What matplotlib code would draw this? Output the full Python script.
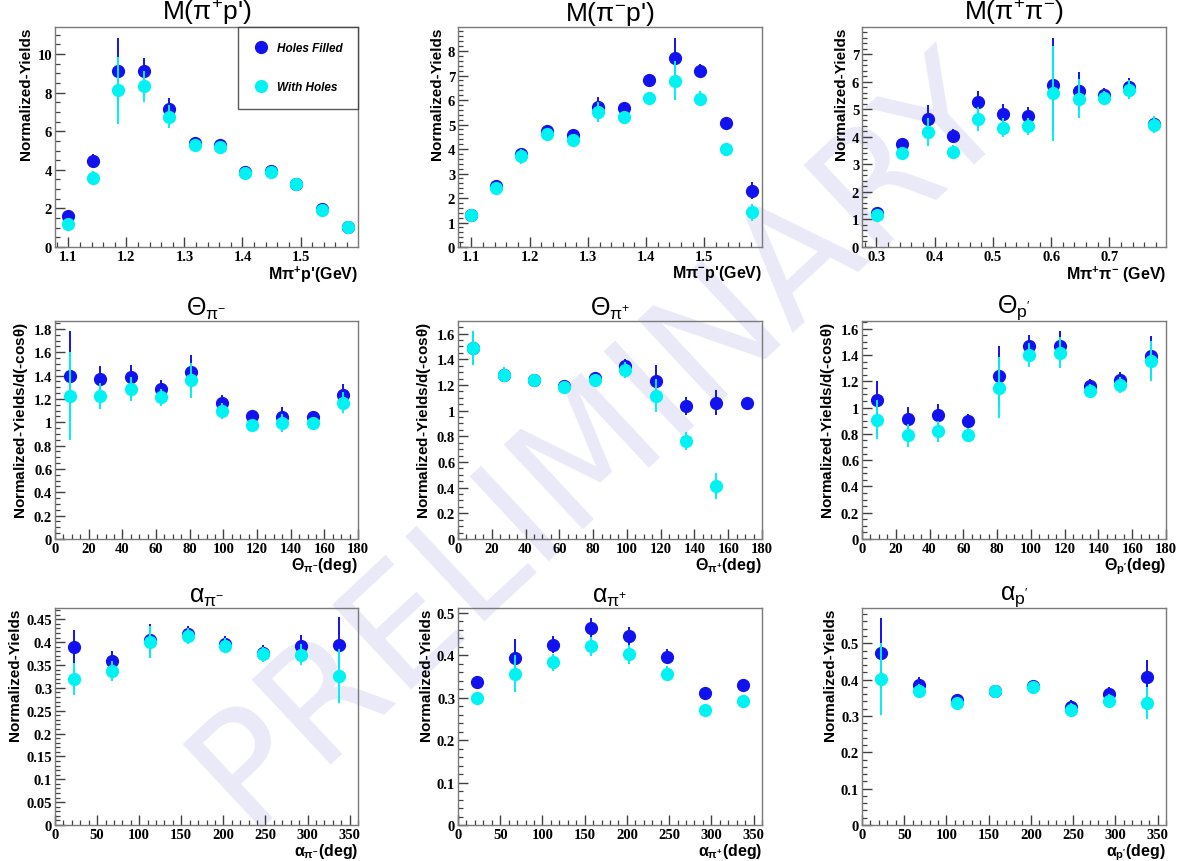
import matplotlib
matplotlib.use("Agg")
import matplotlib.pyplot as plt
from matplotlib.ticker import MultipleLocator
from matplotlib.font_manager import FontProperties
import numpy as np

plt.rcParams['mathtext.fontset'] = 'custom'
plt.rcParams['mathtext.rm'] = 'Liberation Sans'
plt.rcParams['mathtext.it'] = 'Liberation Sans:italic'
plt.rcParams['mathtext.bf'] = 'Liberation Sans:bold'
plt.rcParams['mathtext.default'] = 'regular'

# ---------------- data ----------------
# Row 1: invariant masses (GeV)
m_pipp_x = [1.099, 1.143, 1.186, 1.230, 1.274, 1.318, 1.362, 1.405, 1.449, 1.493, 1.537, 1.581]
m_pipp_fill = [1.61, 4.48, 9.10, 9.10, 7.13, 5.40, 5.31, 3.91, 3.94, 3.27, 1.96, 1.04]
m_pipp_fill_err = [0.30, 0.35, 1.75, 0.70, 0.57, 0.15, 0.25, 0.10, 0.10, 0.30, 0.10, 0.08]
m_pipp_hole = [1.18, 3.60, 8.11, 8.32, 6.75, 5.26, 5.16, 3.86, 3.91, 3.24, 1.92, 1.02]
m_pipp_hole_err = [0.30, 0.35, 1.75, 0.80, 0.60, 0.15, 0.20, 0.10, 0.10, 0.30, 0.10, 0.08]

m_pimp_x = m_pipp_x
m_pimp_fill = [1.32, 2.50, 3.81, 4.73, 4.56, 5.71, 5.67, 6.82, 7.73, 7.18, 5.06, 2.29]
m_pimp_fill_err = [0.20, 0.10, 0.25, 0.15, 0.10, 0.40, 0.25, 0.25, 0.80, 0.30, 0.25, 0.35]
m_pimp_hole = [1.32, 2.42, 3.70, 4.63, 4.38, 5.51, 5.31, 6.08, 6.79, 6.05, 3.99, 1.41]
m_pimp_hole_err = [0.20, 0.10, 0.30, 0.15, 0.10, 0.40, 0.25, 0.25, 0.80, 0.30, 0.25, 0.35]

m_pipi_x = [0.301, 0.344, 0.388, 0.431, 0.474, 0.518, 0.561, 0.604, 0.647, 0.690, 0.734, 0.777]
m_pipi_fill = [1.25, 3.74, 4.65, 4.04, 5.25, 4.83, 4.76, 5.87, 5.65, 5.53, 5.80, 4.47]
m_pipi_fill_err = [0.05, 0.22, 0.50, 0.25, 0.42, 0.35, 0.32, 1.72, 0.72, 0.25, 0.34, 0.30]
m_pipi_hole = [1.16, 3.41, 4.18, 3.46, 4.65, 4.33, 4.38, 5.58, 5.39, 5.41, 5.71, 4.44]
m_pipi_hole_err = [0.05, 0.22, 0.50, 0.25, 0.42, 0.35, 0.32, 1.72, 0.72, 0.25, 0.34, 0.30]

# Row 2: polar angles (deg)
theta_x = [9, 27, 45, 63, 81, 99, 117, 135, 153, 171]
th_pim_fill = [1.40, 1.37, 1.39, 1.285, 1.427, 1.166, 1.052, 1.049, 1.046, 1.237]
th_pim_fill_err = [0.38, 0.11, 0.10, 0.075, 0.15, 0.07, 0.05, 0.08, 0.05, 0.09]
th_pim_hole = [1.225, 1.228, 1.285, 1.214, 1.359, 1.098, 0.981, 0.995, 0.995, 1.169]
th_pim_hole_err = [0.38, 0.11, 0.10, 0.075, 0.15, 0.07, 0.05, 0.08, 0.05, 0.09]

th_pip_fill = [1.488, 1.279, 1.24, 1.189, 1.251, 1.344, 1.227, 1.036, 1.062, 1.059]
th_pip_fill_err = [0.13, 0.06, 0.04, 0.04, 0.04, 0.06, 0.13, 0.07, 0.10, 0.02]
th_pip_hole = [1.488, 1.279, 1.235, 1.183, 1.24, 1.315, 1.116, 0.765, 0.413, np.nan]
th_pip_hole_err = [0.13, 0.06, 0.04, 0.04, 0.04, 0.06, 0.13, 0.07, 0.10, np.nan]

th_p_fill = [1.058, 0.914, 0.944, 0.899, 1.237, 1.465, 1.465, 1.167, 1.21, 1.394]
th_p_fill_err = [0.145, 0.09, 0.08, 0.05, 0.23, 0.09, 0.12, 0.05, 0.06, 0.15]
th_p_hole = [0.909, 0.788, 0.821, 0.795, 1.152, 1.399, 1.419, 1.129, 1.174, 1.354]
th_p_hole_err = [0.145, 0.09, 0.08, 0.05, 0.23, 0.09, 0.12, 0.05, 0.06, 0.15]

# Row 3: azimuthal angles (deg)
alpha_x = [22.5, 67.5, 112.5, 157.5, 202.5, 247.5, 292.5, 337.5]
al_pim_fill = [0.3895, 0.3577, 0.4053, 0.4183, 0.3967, 0.3772, 0.3923, 0.3945]
al_pim_fill_err = [0.036, 0.022, 0.035, 0.018, 0.016, 0.016, 0.023, 0.060]
al_pim_hole = [0.3194, 0.3367, 0.3996, 0.414, 0.3923, 0.3736, 0.3721, 0.3259]
al_pim_hole_err = [0.036, 0.022, 0.035, 0.018, 0.016, 0.016, 0.023, 0.060]

al_pip_fill = [0.3364, 0.3949, 0.4245, 0.4657, 0.4455, 0.3972, 0.3107, 0.3302]
al_pip_fill_err = [0.014, 0.044, 0.020, 0.023, 0.022, 0.018, 0.012, 0.012]
al_pip_hole = [0.299, 0.3567, 0.384, 0.4213, 0.4026, 0.3567, 0.2718, 0.2928]
al_pip_hole_err = [0.014, 0.044, 0.020, 0.023, 0.022, 0.018, 0.012, 0.012]

al_p_fill = [0.4727, 0.3864, 0.3427, 0.370, 0.3818, 0.3245, 0.3609, 0.4082]
al_p_fill_err = [0.098, 0.020, 0.010, 0.012, 0.012, 0.019, 0.020, 0.045]
al_p_hole = [0.4018, 0.3682, 0.3355, 0.3673, 0.380, 0.3173, 0.3409, 0.3355]
al_p_hole_err = [0.098, 0.020, 0.010, 0.012, 0.012, 0.019, 0.020, 0.045]

legend_labels = ["Holes Filled", "With Holes"]

# ---------------- style ----------------
W, H = 1187, 862
BLUE = '#1212ee'
CYAN = '#00f2f2'
SPINE = '#7a7a7a'
tick_fp = FontProperties(family='Liberation Serif', weight='bold', size=10.5)

fig = plt.figure(figsize=(W / 100, H / 100), dpi=100)

# watermark (behind the axes)
fig.text(0.505, 0.49, "PRELIMINARY", fontsize=114, color='#e9e9f8',
         rotation=43, ha='center', va='center', family='DejaVu Sans',
         zorder=-5)

col_l = [55, 458, 862]
col_w = [303, 304, 304]
row_tb = [(28, 248), (322, 540), (609, 826)]

panels = [
    dict(x=m_pipp_x, f=m_pipp_fill, fe=m_pipp_fill_err, h=m_pipp_hole, he=m_pipp_hole_err,
         xlim=(1.077, 1.599), ylim=(0, 11.4), xmaj=0.1, xmin=0.02, ymaj=2, ymin=0.5,
         title=r"M($\pi^{+}$p')", tsize=19, xlabel=r"M$\pi^{+}$p'(GeV)",
         ylabel="Normalized-Yields", xfmt="{:.1f}", legend=True),
    dict(x=m_pimp_x, f=m_pimp_fill, fe=m_pimp_fill_err, h=m_pimp_hole, he=m_pimp_hole_err,
         xlim=(1.077, 1.599), ylim=(0, 8.98), xmaj=0.1, xmin=0.02, ymaj=1, ymin=0.2,
         title=r"M($\pi^{-}$p')", tsize=19, xlabel=r"M$\pi^{-}$p'(GeV)",
         ylabel="Normalized-Yields", xfmt="{:.1f}"),
    dict(x=m_pipi_x, f=m_pipi_fill, fe=m_pipi_fill_err, h=m_pipi_hole, he=m_pipi_hole_err,
         xlim=(0.2755, 0.797), ylim=(0, 7.99), xmaj=0.1, xmin=0.02, ymaj=1, ymin=0.2,
         title=r"M($\pi^{+}\pi^{-}$)", tsize=19, xlabel=r"M$\pi^{+}\pi^{-}$ (GeV)",
         ylabel="Normalized-Yields", xfmt="{:.1f}"),
    dict(x=theta_x, f=th_pim_fill, fe=th_pim_fill_err, h=th_pim_hole, he=th_pim_hole_err,
         xlim=(0, 180), ylim=(0, 1.868), xmaj=20, xmin=5, ymaj=0.2, ymin=0.05,
         title=r"$\Theta_{\pi^{-}}$", tsize=18, xlabel=r"$\Theta_{\pi^{-}}$(deg)",
         ylabel=r"Normalized-Yields/d(-cos$\theta$)", xfmt="{:.0f}"),
    dict(x=theta_x, f=th_pip_fill, fe=th_pip_fill_err, h=th_pip_hole, he=th_pip_hole_err,
         xlim=(0, 180), ylim=(0, 1.698), xmaj=20, xmin=5, ymaj=0.2, ymin=0.05,
         title=r"$\Theta_{\pi^{+}}$", tsize=18, xlabel=r"$\Theta_{\pi^{+}}$(deg)",
         ylabel=r"Normalized-Yields/d(-cos$\theta$)", xfmt="{:.0f}"),
    dict(x=theta_x, f=th_p_fill, fe=th_p_fill_err, h=th_p_hole, he=th_p_hole_err,
         xlim=(0, 180), ylim=(0, 1.659), xmaj=20, xmin=5, ymaj=0.2, ymin=0.05,
         title=r"$\Theta_{p'}$", tsize=18, xlabel=r"$\Theta_{p'}$(deg)",
         ylabel=r"Normalized-Yields/d(-cos$\theta$)", xfmt="{:.0f}"),
    dict(x=alpha_x, f=al_pim_fill, fe=al_pim_fill_err, h=al_pim_hole, he=al_pim_hole_err,
         xlim=(0, 360), ylim=(0, 0.4747), xmaj=50, xmin=10, ymaj=0.05, ymin=0.01,
         title=r"$\alpha_{\pi^{-}}$", tsize=18, xlabel=r"$\alpha_{\pi^{-}}$(deg)",
         ylabel="Normalized-Yields", xfmt="{:.0f}"),
    dict(x=alpha_x, f=al_pip_fill, fe=al_pip_fill_err, h=al_pip_hole, he=al_pip_hole_err,
         xlim=(0, 360), ylim=(0, 0.5117), xmaj=50, xmin=10, ymaj=0.1, ymin=0.02,
         title=r"$\alpha_{\pi^{+}}$", tsize=18, xlabel=r"$\alpha_{\pi^{+}}$(deg)",
         ylabel="Normalized-Yields", xfmt="{:.0f}"),
    dict(x=alpha_x, f=al_p_fill, fe=al_p_fill_err, h=al_p_hole, he=al_p_hole_err,
         xlim=(0, 360), ylim=(0, 0.597), xmaj=50, xmin=10, ymaj=0.1, ymin=0.02,
         title=r"$\alpha_{p'}$", tsize=18, xlabel=r"$\alpha_{p'}$(deg)",
         ylabel="Normalized-Yields", xfmt="{:.0f}"),
]


def fmt_y(v, step):
    if step >= 1:
        return "{:.0f}".format(v)
    if abs(v) < 1e-9:
        return "0"
    s = "{:.2f}".format(v) if step < 0.1 else "{:.1f}".format(v)
    s = s.rstrip('0').rstrip('.') if '.' in s else s
    return s


for i, p in enumerate(panels):
    r, c = divmod(i, 3)
    top, bot = row_tb[r]
    ax = fig.add_axes([col_l[c] / W, 1 - bot / H, col_w[c] / W, (bot - top) / H])
    ax.set_facecolor('none')
    ax.set_xlim(*p['xlim'])
    ax.set_ylim(*p['ylim'])

    ax.errorbar(p['x'], p['f'], yerr=p['fe'], fmt='o', color=BLUE, ms=8.5,
                elinewidth=1.4, capsize=0, label=legend_labels[0], zorder=3)
    ax.errorbar(p['x'], p['h'], yerr=p['he'], fmt='o', color=CYAN, ms=8.5,
                elinewidth=1.4, capsize=0, label=legend_labels[1], zorder=4)

    for s in ax.spines.values():
        s.set_color(SPINE)
        s.set_linewidth(1.0)

    ax.xaxis.set_major_locator(MultipleLocator(p['xmaj']))
    ax.xaxis.set_minor_locator(MultipleLocator(p['xmin']))
    ax.yaxis.set_major_locator(MultipleLocator(p['ymaj']))
    ax.yaxis.set_minor_locator(MultipleLocator(p['ymin']))
    ax.tick_params(which='both', direction='in', top=False, right=False, color='#404040')
    ax.tick_params(which='major', length=7, width=1.0, pad=2)
    ax.tick_params(which='minor', length=3.5, width=0.9)

    xt = [t for t in ax.get_xticks() if p['xlim'][0] - 1e-9 <= t <= p['xlim'][1] + 1e-9]
    ax.set_xticks(xt)
    ax.set_xticklabels([p['xfmt'].format(t) for t in xt])
    yt = [t for t in ax.get_yticks() if p['ylim'][0] - 1e-9 <= t <= p['ylim'][1] + 1e-9]
    ax.set_yticks(yt)
    ax.set_yticklabels([fmt_y(t, p['ymaj']) for t in yt])
    for lab in ax.get_xticklabels() + ax.get_yticklabels():
        lab.set_fontproperties(tick_fp)

    ax.set_title(p['title'], fontsize=p['tsize'], family='Liberation Sans', pad=4)
    ax.set_xlabel(p['xlabel'], fontsize=11.5, fontweight='bold', family='Liberation Sans',
                  loc='right', labelpad=0.5)
    ax.set_ylabel(p['ylabel'], fontsize=11, fontweight='bold', family='Liberation Sans',
                  loc='top', labelpad=3)

    if p.get('legend'):
        leg = ax.legend(loc='upper right', bbox_to_anchor=(1.0, 1.0), frameon=True,
                        fancybox=False, edgecolor='#303030', borderpad=1.3,
                        labelspacing=2.3, handlelength=1.2, handletextpad=0.8,
                        borderaxespad=0,
                        prop=dict(family='Liberation Sans', weight='bold',
                                  style='italic', size=8.5))
        leg.get_frame().set_linewidth(1.0)

fig.savefig("out.png", dpi=100)
